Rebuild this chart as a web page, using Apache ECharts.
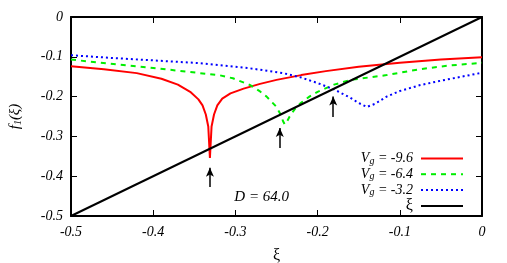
<!DOCTYPE html>
<html><head><meta charset="utf-8">
<script src="https://cdn.jsdelivr.net/npm/echarts@6/dist/echarts.min.js"></script>
<style>html,body{margin:0;padding:0;background:#fff}#c{width:507px;height:263px}</style>
</head><body><div id="c"></div>
<script>
// ---- data ----
var xTicks = [-0.5, -0.4, -0.3, -0.2, -0.1, 0];
var yTicks = [-0.5, -0.4, -0.3, -0.2, -0.1, 0];

var redName = 'V_g = -9.6';
var redX = [-0.5,-0.46,-0.42,-0.39,-0.37,-0.355,-0.345,-0.34,-0.336,-0.333,-0.331,-0.329,-0.326,-0.322,-0.316,-0.306,-0.29,-0.27,-0.25,-0.22,-0.19,-0.15,-0.1,-0.05,0];
var redY = [-0.124,-0.131,-0.141,-0.155,-0.17,-0.188,-0.207,-0.222,-0.245,-0.275,-0.354,-0.275,-0.245,-0.222,-0.205,-0.192,-0.18,-0.168,-0.158,-0.146,-0.136,-0.125,-0.115,-0.107,-0.101];

var greenName = 'V_g = -6.4';
var greenX = [-0.5,-0.44,-0.4,-0.343,-0.32,-0.303,-0.282,-0.27,-0.262,-0.255,-0.25,-0.245,-0.242,-0.24,-0.237,-0.234,-0.228,-0.221,-0.21,-0.2,-0.18,-0.16,-0.116,-0.075,-0.04,0];
var greenY = [-0.107,-0.12,-0.128,-0.141,-0.146,-0.154,-0.171,-0.187,-0.2,-0.215,-0.226,-0.245,-0.262,-0.27,-0.262,-0.25,-0.232,-0.217,-0.2,-0.188,-0.17,-0.158,-0.146,-0.131,-0.122,-0.115];

var blueName = 'V_g = -3.2';
var blueX = [-0.5,-0.45,-0.4,-0.343,-0.3,-0.282,-0.242,-0.22,-0.2,-0.18,-0.16,-0.15,-0.14,-0.13,-0.116,-0.1,-0.075,-0.05,-0.025,0];
var blueY = [-0.096,-0.103,-0.109,-0.116,-0.125,-0.129,-0.141,-0.152,-0.166,-0.182,-0.203,-0.216,-0.226,-0.218,-0.2,-0.186,-0.171,-0.16,-0.15,-0.14];

var xiName = '\u03be';
var xiX = [-0.5, 0];
var xiY = [-0.5, 0];

var arrowX = [-0.331, -0.246, -0.181];
var arrowTail = [-0.427, -0.329, -0.251];
var arrowHead = [-0.379, -0.279, -0.2];

var noteText = 'D = 64.0';
var noteX = -0.268, noteY = -0.452;

// ---- build ----
function pairs(xs, ys){ return xs.map(function(x,i){ return [x, ys[i]]; }); }
var serif = 'Liberation Serif';
var tickFmt = function(v){ return Math.abs(v) < 1e-9 ? '0' : v.toFixed(1); };

var arrowData = arrowX.map(function(x,i){
  return [{coord:[x, arrowTail[i]], symbol:'none'}, {coord:[x, arrowHead[i]], symbol:'arrow'}];
});

var axisCommon = {
  type:'value', min:-0.5, max:0, interval:0.1,
  axisLine:{show:true, onZero:false, lineStyle:{color:'#000', width:2}},
  axisTick:{show:true, inside:true, length:6, lineStyle:{color:'#000', width:1}},
  splitLine:{show:false}
};
function ax(extra){ return Object.assign({}, JSON.parse(JSON.stringify(axisCommon)), extra); }

var chart = echarts.init(document.getElementById('c'), null, {renderer:'canvas'});
chart.setOption({
  animation:false,
  backgroundColor:'#fff',
  grid:{left:71, right:25, top:17, bottom:47, containLabel:false, outerBoundsMode:'none'},
  xAxis:[
    ax({position:'bottom', name:'\u03be', nameLocation:'middle', nameGap:32,
        nameTextStyle:{fontFamily:serif, fontSize:16, color:'#000'},
        axisLabel:{formatter:tickFmt, fontFamily:serif, fontStyle:'italic', fontSize:14, color:'#000', margin:9}}),
    ax({position:'top', axisLabel:{show:false}})
  ],
  yAxis:[
    ax({position:'left', name:'{f|f}{s|1}{p|(\u03be)}', nameLocation:'middle', nameGap:48, nameRotate:90,
        nameTextStyle:{fontFamily:serif, fontSize:15, color:'#000',
          rich:{f:{fontFamily:serif, fontStyle:'italic', fontSize:15}, s:{fontFamily:serif, fontStyle:'italic', fontSize:10, padding:[6,0,0,0]}, p:{fontFamily:serif, fontStyle:'italic', fontSize:15}}},
        axisLabel:{formatter:tickFmt, fontFamily:serif, fontStyle:'italic', fontSize:14, color:'#000', margin:8}}),
    ax({position:'right', axisLabel:{show:false}})
  ],
  legend:{
    orient:'vertical', right:43, top:151, align:'right', padding:0,
    itemWidth:42, itemHeight:14, itemGap:0.7,
    itemStyle:{opacity:0},
    data:[redName, greenName, blueName, xiName],
    formatter:function(n){
      if (n === xiName) return '{x|' + n + '}';
      var parts = n.split('_g');
      return '{v|V}{g|g}{t|' + parts[1] + '}';
    },
    textStyle:{fontFamily:serif, fontSize:14, lineHeight:14, color:'#000', padding:[0,3,0,0],
      rich:{v:{fontFamily:serif, fontStyle:'italic', fontSize:14, lineHeight:14},
            g:{fontFamily:serif, fontStyle:'italic', fontSize:10, lineHeight:7, padding:[5,0,0,0]},
            t:{fontFamily:serif, fontStyle:'italic', fontSize:14, lineHeight:14},
            x:{fontFamily:serif, fontSize:16, lineHeight:14, color:'#000'}}}
  },
  series:[
    {name:redName, type:'line', data:pairs(redX, redY), symbol:'none', smooth:false,
      lineStyle:{color:'#ff0000', width:2}, itemStyle:{color:'#ff0000'}},
    {name:greenName, type:'line', data:pairs(greenX, greenY), symbol:'none',
      lineStyle:{color:'#00ee00', width:2, type:[5,5]}, itemStyle:{color:'#00ee00'}},
    {name:blueName, type:'line', data:pairs(blueX, blueY), symbol:'none',
      lineStyle:{color:'#0000ff', width:2, type:[2,3]}, itemStyle:{color:'#0000ff'}},
    {name:xiName, type:'line', data:pairs(xiX, xiY), symbol:'none',
      lineStyle:{color:'#000', width:2}, itemStyle:{color:'#000'}},
    {type:'line', data:[], silent:true,
      markLine:{silent:true, animation:false, symbolSize:[6,9], label:{show:false},
        lineStyle:{color:'#000', width:1.5, type:'solid'}, emphasis:{disabled:true},
        data:arrowData},
      markPoint:{silent:true, symbol:'circle', symbolSize:1, itemStyle:{color:'rgba(0,0,0,0)'},
        label:{show:true, position:'inside', formatter:noteText, fontFamily:serif, fontStyle:'italic', fontSize:15, color:'#000'},
        data:[{coord:[noteX, noteY]}]}
    }
  ]
});
</script></body></html>
